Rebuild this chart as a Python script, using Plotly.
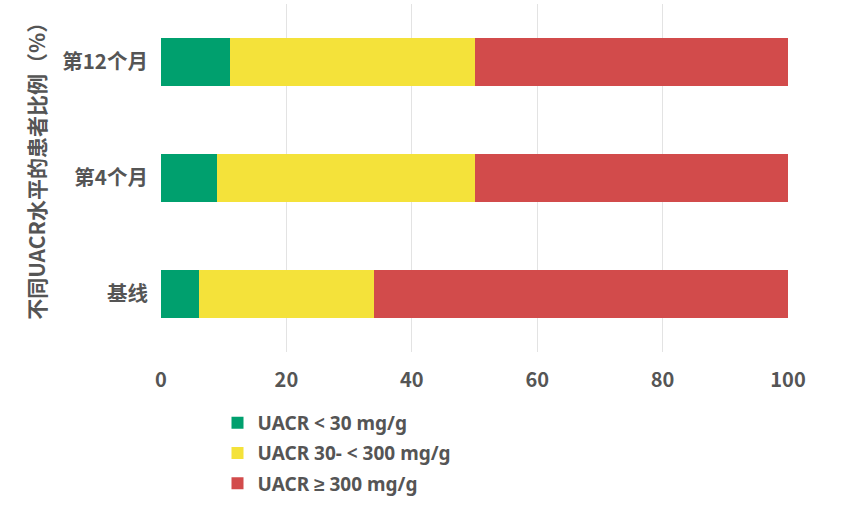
import plotly.graph_objects as go

categories = ["基线", "第4个月", "第12个月"]
series_names = ["UACR < 30 mg/g", "UACR 30- < 300 mg/g", "UACR ≥ 300 mg/g"]
low = [6, 9, 11]
mid = [28, 41, 39]
high = [66, 50, 50]
x_ticks = [0, 20, 40, 60, 80, 100]
y_title = "不同UACR水平的患者比例（%）"

colors = ["#00A06E", "#F4E23A", "#D24B4B"]
FONT = "Noto Sans CJK SC, Noto Sans, sans-serif"
LFONT = "Noto Sans, Liberation Sans, DejaVu Sans, sans-serif"
FC = "#555555"

fig = go.Figure()
for i, (name, vals) in enumerate(zip(series_names, [low, mid, high])):
    fig.add_trace(go.Bar(
        y=categories, x=vals, name=name, orientation="h",
        marker=dict(color=colors[i], line=dict(width=0)),
        legendgroup=f"g{i}", width=0.414,
    ))

fig.update_layout(
    barmode="stack",
    width=845, height=510,
    margin=dict(l=161, r=57, t=4, b=158, autoexpand=False),
    plot_bgcolor="white", paper_bgcolor="white",
    font=dict(family=FONT, size=20, color=FC, weight="bold"),
    legend=dict(
        orientation="v", traceorder="grouped", tracegroupgap=2.5,
        xref="container", yref="container", x=0.2574, y=0.2078,
        xanchor="left", yanchor="top",
        font=dict(size=19, color=FC, family=LFONT, weight="bold"),
        itemwidth=30,
    ),
)
fig.add_annotation(
    text=y_title, textangle=-90, xref="paper", yref="paper",
    x=-0.1994, y=0.535, xanchor="center", yanchor="middle", showarrow=False,
    font=dict(size=21, color=FC, family=FONT, weight="bold"),
)
fig.update_xaxes(
    range=[0, 100], tickvals=x_ticks, showgrid=True, gridcolor="#E3E3E3", gridwidth=1,
    zeroline=False, showline=False, ticks="outside", ticklen=10, tickcolor="rgba(0,0,0,0)",
    tickfont=dict(size=20, color=FC, family=FONT, weight="bold"),
)
fig.update_yaxes(
    showgrid=False, zeroline=False, showline=False,
    ticks="outside", ticklen=8, tickcolor="rgba(0,0,0,0)",
    tickfont=dict(size=20.5, color=FC, family=FONT, weight="bold"),
)

fig.write_html("out.html")
